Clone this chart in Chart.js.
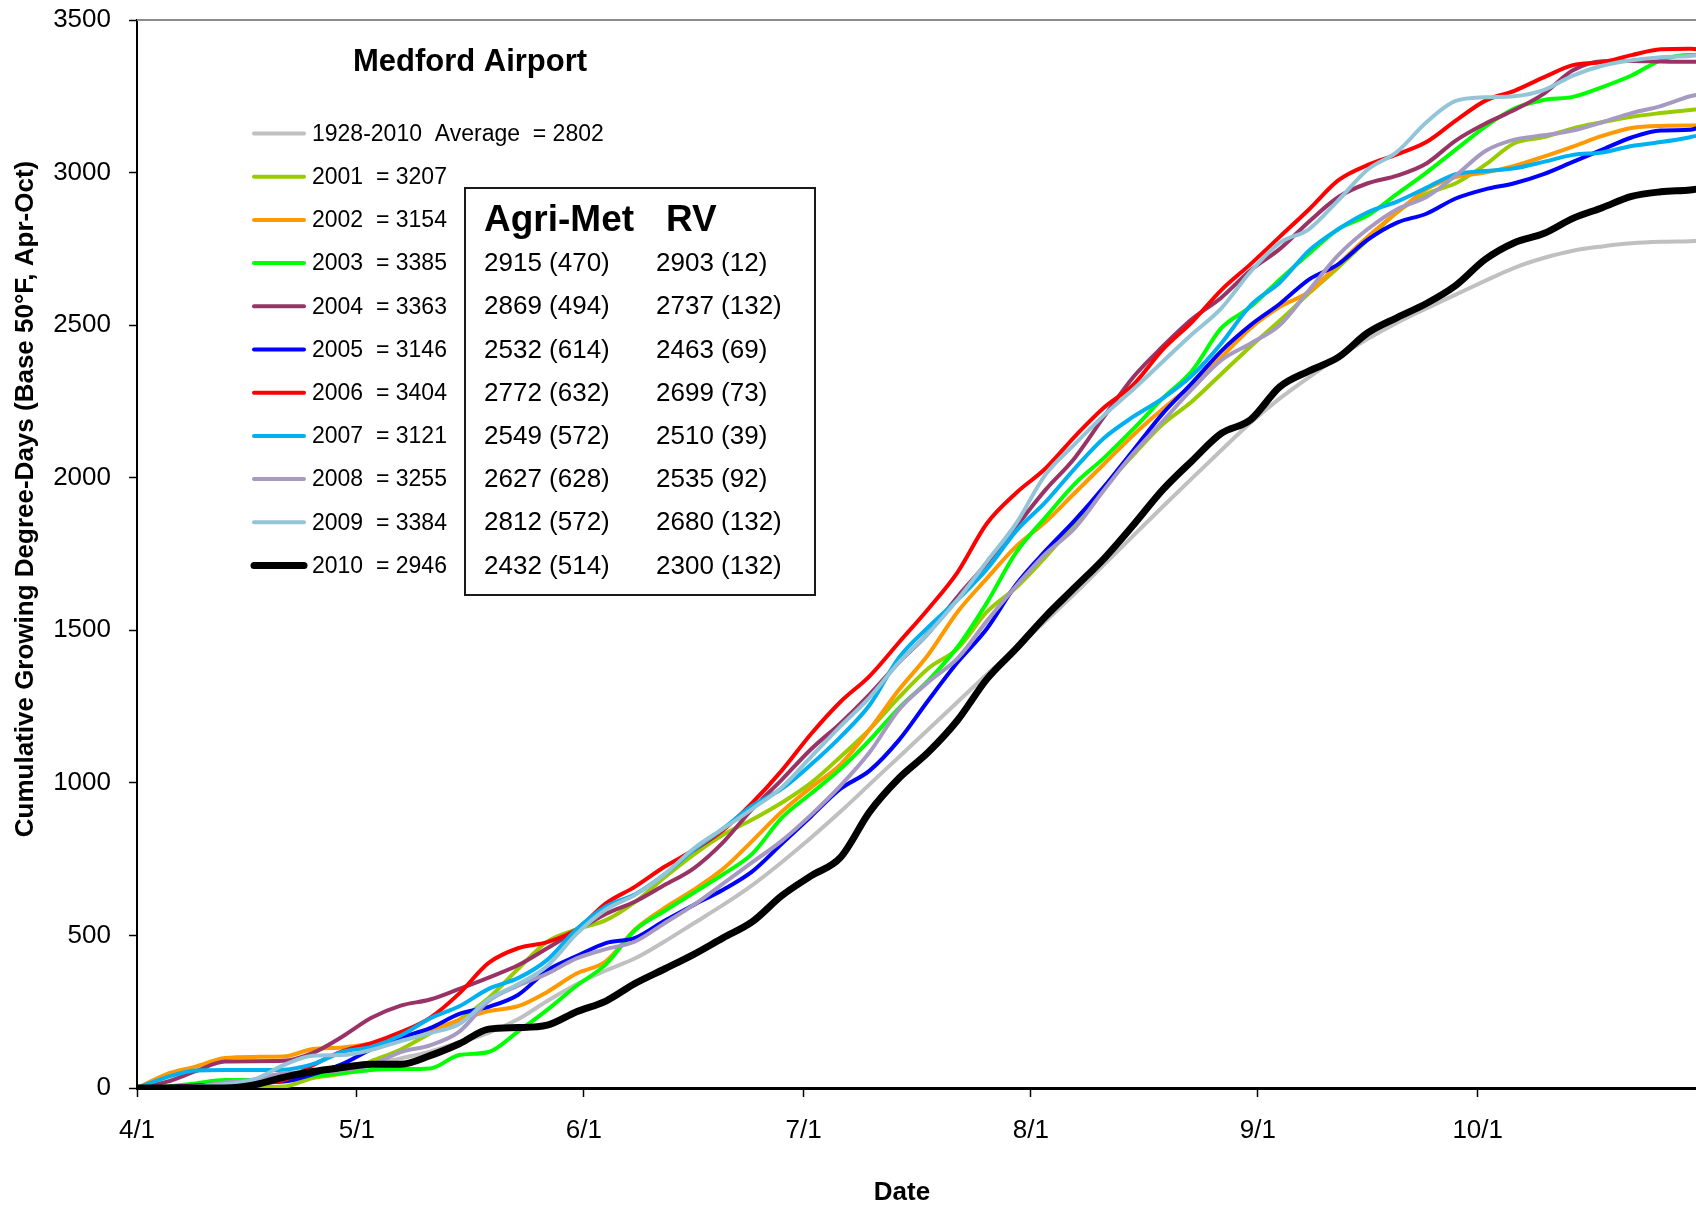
<!DOCTYPE html>
<html><head><meta charset="utf-8">
<script src="https://cdn.jsdelivr.net/npm/chart.js@4.4.1/dist/chart.umd.min.js"></script>
<style>html,body{margin:0;padding:0;background:#fff;}canvas{display:block;}</style>
</head><body>
<canvas id="c" width="1696" height="1205"></canvas>
<script>
// ---------- DATA ----------
const days = [0,4,8,12,16,20,24,28,32,36,40,44,48,52,56,60,64,68,72,76,80,84,88,92,96,100,104,108,112,116,120,124,128,132,136,140,144,148,152,156,160,164,168,172,176,180,184,188,192,196,200,204,208,212,213];
const tickDays = [0,30,61,91,122,153,183];
const tickLabels = ['4/1','5/1','6/1','7/1','8/1','9/1','10/1'];
const yTicks = [0,500,1000,1500,2000,2500,3000,3500];

const seriesNames = ['1928-2010  Average','2001','2002','2003','2004','2005','2006','2007','2008','2009','2010'];
const seriesTotals = [2802,3207,3154,3385,3363,3146,3404,3121,3255,3384,2946];

const avg1928 = [0,4,11,18,26,36,47,60,76,97,119,150,181,225,285,340,385,425,480,540,600,665,740,820,905,995,1085,1175,1265,1355,1440,1530,1620,1715,1810,1905,1998,2090,2180,2260,2330,2395,2455,2508,2555,2600,2645,2688,2720,2744,2758,2768,2773,2775,2776];
const y2001 = [0,0,0,2,3,5,33,48,88,126,179,225,295,390,480,520,550,610,690,765,830,880,935,1000,1085,1175,1280,1375,1440,1560,1640,1740,1850,1970,2075,2175,2250,2340,2430,2515,2605,2690,2780,2870,2930,2965,3025,3096,3116,3145,3165,3183,3195,3205,3207];
const y2002 = [0,45,70,98,102,103,128,133,146,168,190,222,252,268,315,375,415,520,590,650,718,810,905,985,1060,1175,1305,1420,1560,1670,1775,1855,1950,2045,2140,2225,2305,2395,2490,2560,2610,2700,2790,2870,2945,2985,3000,3022,3052,3085,3120,3146,3153,3154,3154];
const y2003 = [0,5,15,26,26,30,40,48,59,62,64,108,118,185,256,335,405,518,580,640,700,768,885,965,1045,1140,1245,1335,1445,1590,1755,1870,1980,2065,2160,2260,2350,2490,2560,2650,2735,2815,2860,2930,3000,3075,3150,3210,3238,3248,3280,3318,3368,3385,3385];
const y2004 = [0,20,55,87,88,89,115,168,230,270,290,325,362,402,458,515,570,611,665,720,805,915,1010,1110,1195,1290,1395,1490,1610,1720,1840,1960,2065,2200,2330,2430,2520,2590,2680,2750,2840,2920,2965,2990,3030,3105,3160,3205,3258,3335,3365,3366,3364,3363,3363];
const y2005 = [0,3,8,13,18,21,45,78,127,165,196,243,266,305,385,432,475,492,548,600,650,710,800,890,980,1040,1140,1270,1395,1505,1650,1760,1860,1970,2090,2210,2310,2415,2500,2570,2650,2700,2780,2836,2865,2915,2945,2965,2995,3035,3075,3115,3138,3140,3146];
const y2006 = [0,3,6,10,15,25,75,120,147,183,230,310,410,458,478,520,605,660,725,780,845,935,1040,1160,1265,1350,1460,1570,1690,1850,1950,2030,2135,2230,2305,2420,2510,2615,2700,2790,2880,2975,3025,3060,3100,3170,3235,3268,3312,3352,3362,3385,3404,3406,3404];
const y2007 = [0,35,57,59,59,60,78,118,135,172,228,268,325,360,420,520,595,635,700,780,850,925,980,1060,1150,1255,1410,1510,1600,1700,1825,1920,2030,2130,2200,2260,2335,2440,2565,2640,2745,2815,2870,2905,2950,2995,3005,3014,3035,3058,3066,3087,3100,3116,3121];
const y2008 = [0,0,5,18,28,48,52,58,76,118,140,185,285,335,375,425,455,480,540,600,670,740,810,895,990,1100,1240,1330,1408,1530,1645,1750,1835,1960,2080,2185,2290,2385,2440,2500,2615,2730,2815,2880,2920,2990,3070,3108,3122,3138,3165,3195,3218,3250,3255];
const y2009 = [0,2,5,12,28,75,106,108,125,154,180,210,290,340,400,505,585,633,700,785,850,915,985,1085,1185,1280,1395,1490,1600,1725,1850,2010,2110,2205,2290,2380,2470,2555,2675,2770,2815,2910,3010,3068,3165,3235,3247,3250,3270,3318,3350,3368,3378,3382,3384];
const y2010 = [0,0,0,0,10,35,54,67,78,78,106,145,193,198,206,250,285,343,390,438,492,545,630,695,755,905,1015,1100,1205,1340,1440,1545,1640,1735,1845,1960,2055,2145,2190,2298,2350,2395,2475,2525,2571,2630,2715,2770,2800,2850,2885,2922,2937,2943,2946];

const tableYears = ['2003','2004','2005','2006','2007','2008','2009','2010'];
const agriMetGdd = [2915,2869,2532,2772,2549,2627,2812,2432];
const agriMetDiff = [470,494,614,632,572,628,572,514];
const rvGdd = [2903,2737,2463,2699,2510,2535,2680,2300];
const rvDiff = [12,132,69,73,39,92,132,132];

const chartTitle = 'Medford Airport';
const xTitle = 'Date';
const yTitle = 'Cumulative Growing Degree-Days (Base 50\u00B0F, Apr-Oct)';

// ---------- STYLE ----------
const seriesValues = [avg1928,y2001,y2002,y2003,y2004,y2005,y2006,y2007,y2008,y2009,y2010];
const seriesColors = ['#C0C0C0','#99CC00','#FF9900','#00FF00','#993366','#0000FF','#FF0000','#00B0F0','#A69AC2','#93C4D8','#000000'];
const seriesWidths = [4,4,4,4,4,4,4,4,4,4,7];
const FONT = '"Liberation Sans", Arial, Helvetica, sans-serif';

const datasets = seriesValues.map((vals, i) => ({
  label: seriesNames[i] + '  = ' + seriesTotals[i],
  data: days.map((d, j) => ({x: d, y: vals[j]})),
  borderColor: seriesColors[i],
  backgroundColor: seriesColors[i],
  borderWidth: seriesWidths[i],
  pointRadius: 0,
  fill: false,
  cubicInterpolationMode: 'monotone',
  borderCapStyle: 'round',
  borderJoinStyle: 'round',
  order: seriesValues.length - i
}));

const overlay = {
  id: 'overlay',
  afterDraw(chart) {
    const ctx = chart.ctx, a = chart.chartArea;
    ctx.save();
    // top frame line
    ctx.strokeStyle = '#8c8c8c'; ctx.lineWidth = 2;
    ctx.beginPath(); ctx.moveTo(a.left, a.top); ctx.lineTo(a.right, a.top); ctx.stroke();

    ctx.fillStyle = '#000';
    ctx.textBaseline = 'middle';
    // title
    ctx.font = 'bold 31px ' + FONT; ctx.textAlign = 'center';
    ctx.fillText(chartTitle, 470, 62);

    // legend
    ctx.textAlign = 'left';
    ctx.font = '23px ' + FONT;
    chart.data.datasets.forEach((ds, i) => {
      const y = 133.5 + 43.2 * i;
      ctx.strokeStyle = ds.borderColor; ctx.lineWidth = ds.borderWidth; ctx.lineCap = 'round';
      ctx.beginPath(); ctx.moveTo(254, y); ctx.lineTo(304, y); ctx.stroke();
      ctx.fillStyle = '#000';
      ctx.fillText(ds.label, 312, y + 1);
    });

    // table box
    ctx.lineCap = 'butt';
    ctx.strokeStyle = '#1a1a1a'; ctx.lineWidth = 2;
    ctx.strokeRect(465, 188, 350, 407);
    ctx.font = 'bold 37px ' + FONT;
    ctx.fillText('Agri-Met', 484, 221);
    ctx.fillText('RV', 666, 221);
    ctx.font = '26px ' + FONT;
    tableYears.forEach((yr, i) => {
      const y = 264 + 43.2 * i;
      ctx.fillText(agriMetGdd[i] + ' (' + agriMetDiff[i] + ')', 484, y);
      ctx.fillText(rvGdd[i] + ' (' + rvDiff[i] + ')', 656, y);
    });

    // axis titles
    ctx.font = 'bold 26px ' + FONT; ctx.textAlign = 'center';
    ctx.fillText(xTitle, 902, 1193);
    ctx.translate(26, 499); ctx.rotate(-Math.PI / 2);
    ctx.fillText(yTitle, 0, 0);
    ctx.restore();
  }
};

new Chart(document.getElementById('c'), {
  type: 'line',
  data: { datasets },
  options: {
    responsive: false,
    animation: false,
    devicePixelRatio: 1,
    layout: { padding: { top: 20, right: 0, bottom: 0, left: 0 } },
    plugins: { legend: { display: false }, tooltip: { enabled: false }, title: { display: false } },
    scales: {
      x: {
        type: 'linear', min: 0, max: 212.8,
        afterFit(s) { s.height = 117; s.paddingLeft = 0; s.paddingRight = 0; },
        afterBuildTicks(s) { s.ticks = tickDays.map(v => ({ value: v })); },
        ticks: {
          autoSkip: false, maxRotation: 0, padding: 18, color: '#000',
          font: { family: FONT, size: 26 },
          callback: (v) => { const k = tickDays.indexOf(v); return k >= 0 ? tickLabels[k] : ''; }
        },
        grid: { display: true, drawOnChartArea: false, drawTicks: true, tickLength: 9, tickWidth: 1.5, tickColor: '#000' },
        border: { display: true, color: '#000', width: 3 }
      },
      y: {
        min: 0, max: 3500,
        afterFit(s) { s.width = 137; s.paddingTop = 0; s.paddingBottom = 0; },
        afterBuildTicks(s) { s.ticks = yTicks.map(v => ({ value: v })); },
        ticks: {
          padding: 18, color: '#000',
          font: { family: FONT, size: 26 },
          callback: (v) => String(v)
        },
        grid: { display: true, drawOnChartArea: false, drawTicks: true, tickLength: 8, tickWidth: 1.5, tickColor: '#000' },
        border: { display: true, color: '#000', width: 2 }
      }
    }
  },
  plugins: [overlay]
});
</script>
</body></html>
